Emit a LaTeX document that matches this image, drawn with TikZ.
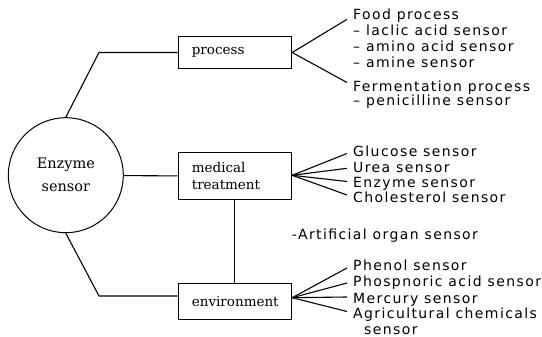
\documentclass[tikz,border=0pt]{standalone}
\usepackage{fontspec}
\newfontfamily\plotfont[LetterSpace=10]{DejaVu Sans}
\newfontfamily\boxfont{DejaVu Serif}
\usetikzlibrary{shapes}
\tikzstyle{boxes} = [rectangle, draw=black, line width=1pt, minimum width=113.7pt, text
width=86pt, align=left, inner sep=0pt, font=\boxfont\fontsize{13.5}{17}\selectfont]
\tikzstyle{enzymeCircle} = [circle, draw=black, line width=1pt, minimum size=115pt, align=center,
font=\boxfont\fontsize{14.5}{23}\selectfont]
\tikzstyle{sensorText} = [anchor=base west, inner sep=0pt, font=\plotfont\fontsize{14}{16}\selectfont]
\tikzstyle{line} = [line width=1.1pt, -]

\begin{document}
\begin{tikzpicture}[x=1pt, y=-1pt]
    \useasboundingbox (0,0) rectangle (542,337);

    \node (enzyme) [enzymeCircle] at (65.8,175.2) {Enzyme\\sensor};
    \node (process) [boxes, minimum height=32pt] at (234.85,52.5) {process};
    \node (medical) [boxes, minimum height=47.3pt] at (234.85,176.3) {medical\\treatment};
    \node (environment) [boxes, minimum height=35.7pt] at (234.85,301.2) {environment};

    \node (food) [sensorText] at (353,20) {Food process};
    \node (lactic) [sensorText] at (353,36) {– laclic acid sensor};
    \node (amino) [sensorText] at (353,52) {– amino acid sensor};
    \node (amine) [sensorText] at (353,68) {– amine sensor};
    \node (ferment) [sensorText] at (353,91.5) {Fermentation process};
    \node (penicillin) [sensorText] at (353,106) {– penicilline sensor};

    \node (glucose) [sensorText] at (353,156.5) {Glucose sensor};
    \node (urea) [sensorText] at (353,172) {Urea sensor};
    \node (enzymeSensor) [sensorText] at (353,187.5) {Enzyme sensor};
    \node (cholesterol) [sensorText] at (353,203) {Cholesterol sensor};
    \node (artificial) [sensorText] at (291.7,240) {-Artificial organ sensor};

    \node (phenol) [sensorText] at (353,270) {Phenol sensor};
    \node (phosphoric) [sensorText] at (353,287) {Phospnoric acid sensor};
    \node (mercury) [sensorText] at (353,303) {Mercury sensor};
    \node (agri) [sensorText] at (353,318.5) {Agricultural chemicals};
    \node (agriTail) [sensorText] at (364,334.5) {sensor};

    \coordinate (kneeTop) at (99,52.5);
    \coordinate (kneeBottom) at (99,296);

    \draw[line] (enzyme.north) -- (kneeTop) -- (process.west);
    \draw[line] (enzyme) -- (medical);
    \draw[line] (enzyme.south) -- (kneeBottom) -- (kneeBottom -| environment.west);
    \draw[line] (medical) -- (environment);

    \draw[line] (process.east) -- ([xshift=-6pt, yshift=0.7pt]food.base west);
    \draw[line] (process.east) -- ([xshift=-6pt, yshift=9pt]ferment.base west);

    \draw[line] ([yshift=1pt]medical.east) -- ([xshift=-6pt, yshift=3pt]glucose.base west);
    \draw[line] ([yshift=1pt]medical.east) -- ([xshift=-6pt, yshift=3.7pt]urea.base west);
    \draw[line] ([yshift=1pt]medical.east) -- ([xshift=-6pt, yshift=6pt]enzymeSensor.base west);
    \draw[line] ([yshift=1pt]medical.east) -- ([xshift=-6pt, yshift=8pt]cholesterol.base west);

    \draw[line] ([yshift=3.5pt]environment.east) -- ([xshift=-6pt, yshift=2pt]phenol.base west);
    \draw[line] ([yshift=3.5pt]environment.east) -- ([xshift=-6pt, yshift=4pt]phosphoric.base west);
    \draw[line] ([yshift=3.5pt]environment.east) -- ([xshift=-6pt, yshift=6pt]mercury.base west);
    \draw[line] ([yshift=3.5pt]environment.east) -- ([xshift=-6pt, yshift=7pt]agri.base west);

    \end{tikzpicture}
\end{document}
